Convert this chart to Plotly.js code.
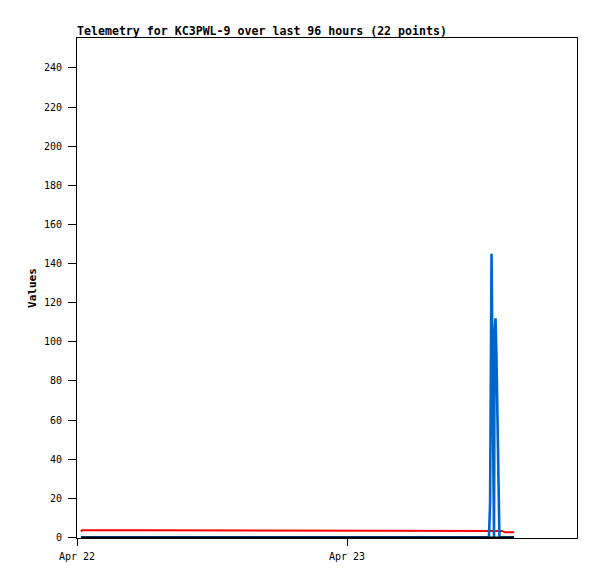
<!DOCTYPE html>
<html>
<head>
<meta charset="utf-8">
<script src="https://cdn.plot.ly/plotly-3.0.1.min.js"></script>
<style>html,body{margin:0;padding:0;background:#fff;}</style>
</head>
<body>
<div id="chart" style="width:597px;height:579px;"></div>
<script>
// Telemetry sample times (22 points)
const times = [
  "2024-04-22 00:21", "2024-04-22 00:27", "2024-04-22 06:10", "2024-04-22 12:30",
  "2024-04-22 19:45", "2024-04-23 02:15", "2024-04-23 08:40", "2024-04-23 12:37",
  "2024-04-23 12:43", "2024-04-23 12:51", "2024-04-23 12:56", "2024-04-23 13:04",
  "2024-04-23 13:07", "2024-04-23 13:12", "2024-04-23 13:17", "2024-04-23 13:23",
  "2024-04-23 13:28", "2024-04-23 13:33", "2024-04-23 13:40", "2024-04-23 13:47",
  "2024-04-23 14:03", "2024-04-23 14:51"
];
const redValues = [3.0, 3.6, 3.6, 3.6, 3.6, 3.6, 3.6, 3.6, 3.6, 3.6, 3.6, 3.6,
                   3.6, 3.6, 3.6, 3.6, 3.6, 3.6, 3.6, 3.3, 2.6, 2.6];
const blueValues = [0, 0, 0, 0, 0, 0, 0, 0, 17, 145, 88, 0,
                    104, 112, 93, 56, 19, 0, 0, 0, 0, 0];
const blackValues = [0, 0, 0, 0, 0, 0, 0, 0, 0, 0, 0, 0,
                     0, 0, 0, 0, 0, 0, 0, 0, 0, 0];
const xTickVals = ["2024-04-22 00:00", "2024-04-23 00:00"];
const xTickText = ["Apr 22", "Apr 23"];
const yTickVals = [0, 20, 40, 60, 80, 100, 120, 140, 160, 180, 200, 220, 240];
const titleText = "Telemetry for KC3PWL-9 over last 96 hours (22 points)";

const mono = "DejaVu Sans Mono, Liberation Mono, monospace";
const traces = [
  {x: times, y: redValues, mode: "lines", line: {color: "#ff0000", width: 2}, hoverinfo: "skip"},
  {x: times, y: blueValues, mode: "lines", line: {color: "#0066cc", width: 2.6}, hoverinfo: "skip"},
  {x: times, y: blackValues, mode: "lines", line: {color: "#000000", width: 2}, hoverinfo: "skip"}
];
const layout = {
  width: 597, height: 579,
  margin: {l: 77, r: 20, t: 38, b: 41, pad: 0},
  paper_bgcolor: "#fff", plot_bgcolor: "#fff",
  showlegend: false,
  font: {family: mono, size: 10, color: "#000"},
  title: {text: titleText, x: 77/597, xref: "container", xanchor: "left",
          y: 1 - 31/579, yref: "container", yanchor: "middle",
          font: {family: mono, size: 11.6, weight: "bold", color: "#000"}},
  xaxis: {
    type: "date",
    range: ["2024-04-22 00:00", "2024-04-23 20:26:40"],
    tickmode: "array", tickvals: xTickVals, ticktext: xTickText,
    ticks: "outside", ticklen: 7, tickcolor: "#000", tickwidth: 1,
    ticklabelstandoff: 2,
    showgrid: false, zeroline: false,
    showline: true, linecolor: "#000", linewidth: 1, mirror: true,
    tickfont: {family: mono, size: 10, color: "#000"}
  },
  yaxis: {
    range: [-0.3, 255.3],
    tickmode: "array", tickvals: yTickVals,
    ticks: "outside", ticklen: 8, tickcolor: "#000", tickwidth: 1,
    ticklabelstandoff: 4,
    showgrid: false, zeroline: false,
    showline: true, linecolor: "#000", linewidth: 1, mirror: true,
    tickfont: {family: mono, size: 10, color: "#000"},
    title: {text: "Values", standoff: 5, font: {family: mono, size: 11, weight: "bold", color: "#000"}}
  }
};
Plotly.newPlot("chart", traces, layout, {staticPlot: true, displayModeBar: false});
</script>
</body>
</html>
